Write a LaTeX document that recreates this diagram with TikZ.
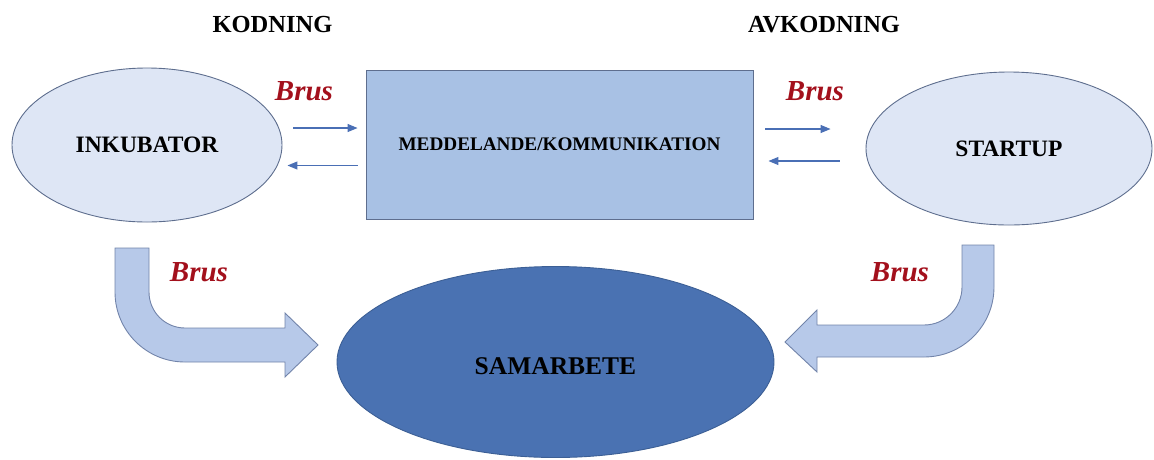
\documentclass[tikz,border=0pt]{standalone}
\usepackage{fontspec}
\setmainfont{Liberation Serif}
\usetikzlibrary{arrows.meta,shapes.geometric}
\definecolor{ellfill}{HTML}{DEE6F5}
\definecolor{boxfill}{HTML}{A8C1E4}
\definecolor{samfill}{HTML}{4A72B2}
\definecolor{samline}{HTML}{3C5F95}
\definecolor{edgegray}{HTML}{5E6E8E}
\definecolor{bentfill}{HTML}{B7C9E9}
\definecolor{bentline}{HTML}{7284AA}
\definecolor{arrblue}{HTML}{4A6FB5}
\definecolor{brusred}{HTML}{A3101C}
\tikzset{
  ell/.style={draw=edgegray, ellipse, fill=ellfill, line width=0.9pt, inner sep=0pt, font=\bfseries\fontsize{23.5}{26}\selectfont},
  msgbox/.style={draw=edgegray, rectangle, fill=boxfill, line width=0.9pt, inner sep=0pt, font=\bfseries\fontsize{19.2}{22}\selectfont},
  samell/.style={draw=samline, ellipse, fill=samfill, line width=0.9pt, inner sep=0pt, font=\bfseries\fontsize{25.5}{28}\selectfont},
  head/.style={font=\bfseries\fontsize{24.5}{27}\selectfont},
  brus/.style={font=\bfseries\itshape\fontsize{29}{32}\selectfont, text=brusred},
  arr/.style={-{Triangle[length=10pt,width=8pt]}, line width=1.1pt, draw=arrblue},
  bent/.style={draw=bentline, fill=bentfill, line width=0.9pt},
}
\begin{document}
\begin{tikzpicture}[x=1pt,y=-1pt]
\useasboundingbox (0,0) rectangle (1154,459);
\node[head] (kod) at (272.5,24.5) {KODNING};
\node[head] (avkod) at (824,24.5) {AVKODNING};
\node[ell, minimum width=270pt, minimum height=154pt] (inku) at (147,145) {INKUBATOR};
\node[msgbox, minimum width=387pt, minimum height=149pt] (msg) at (559.5,144.5) {MEDDELANDE/KOMMUNIKATION};
\node[ell, minimum width=286pt, minimum height=153pt] (start) at (1009,148.5) {STARTUP};
\node[samell, minimum width=437pt, minimum height=191pt, text height=26pt] (samarb) at (555.5,362) {SAMARBETE};
% brus labels
\node[brus] (b1) at (304,91) {Brus};
\node[brus] (b2) at (815,91) {Brus};
\node[brus] (b3) at (199,272) {Brus};
\node[brus] (b4) at (900,272) {Brus};
% thin arrows
\draw[arr, shorten <=11pt, shorten >=8pt] ([yshift=17pt]inku.east) -- ([yshift=16.5pt]msg.west);
\draw[arr, shorten <=8pt, shorten >=5pt] ([yshift=-21pt]msg.west) -- ([yshift=-20.5pt]inku.east);
\draw[arr, shorten <=12pt, shorten >=35pt] ([yshift=15.5pt]msg.east) -- ([yshift=19.5pt]start.west);
\draw[arr, shorten <=26pt, shorten >=15pt] ([yshift=-12.5pt]start.west) -- ([yshift=-16.5pt]msg.east);
% bent arrows
\path[bent] (115,248) -- (115,292) .. controls (115,330.7) and (146.3,362) .. (185,362)
  -- (285,362) -- (285,377) -- (318,345) -- (285,313) -- (285,328) -- (185,328)
  .. controls (165.1,328) and (149,311.9) .. (149,292) -- (149,248) -- cycle;
\path[bent] (994,245) -- (994,287) .. controls (994,325.7) and (962.7,357) .. (924,357)
  -- (817,357) -- (817,372) -- (785,342) -- (817,310) -- (817,325) -- (924,325)
  .. controls (945,325) and (962,308) .. (962,287) -- (962,245) -- cycle;
\end{tikzpicture}
\end{document}
